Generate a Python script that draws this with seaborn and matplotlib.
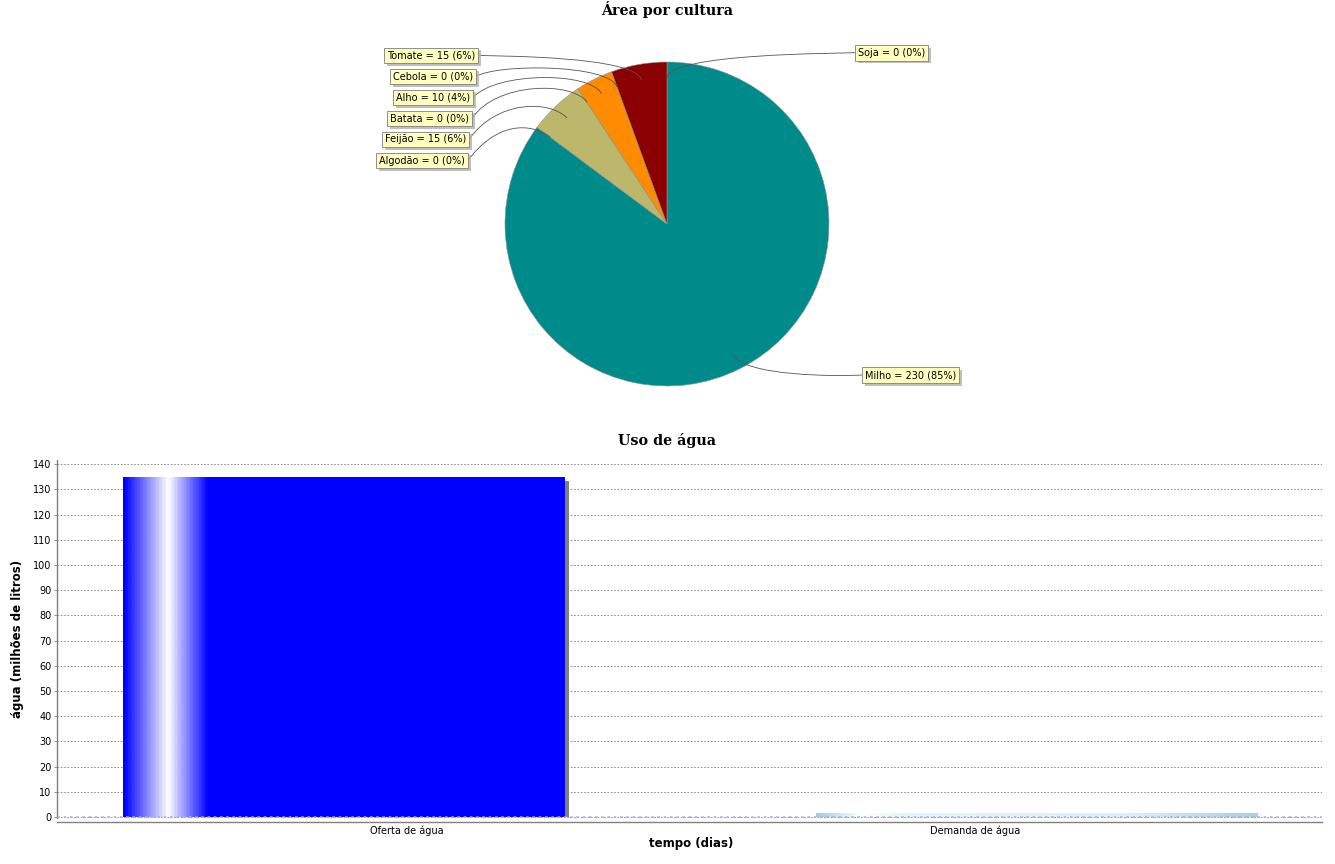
import numpy as np
import pandas as pd
import seaborn as sns
import matplotlib.pyplot as plt
import matplotlib.patheffects as pe
from matplotlib.path import Path
from matplotlib.patches import PathPatch, Rectangle
from matplotlib.colors import LinearSegmentedColormap

# --- data -------------------------------------------------------------
culturas = ['Soja', 'Milho', 'Algodão', 'Feijão', 'Batata', 'Alho', 'Cebola', 'Tomate']
areas = [0, 230, 0, 15, 0, 10, 0, 15]
cores_pie = ['#4682b4', '#008b8b', '#999999', '#bdb76b', '#cccccc', '#ff8c00', '#dddddd', '#8b0000']

usos = ['Oferta de água', 'Demanda de água']
volumes = [135, 1.6]

# --- layout (pixels of the 1335x864 picture) --------------------------
W, H = 1335, 864
CX, CY, R = 667, 224, 162
# label box edge (x) and centre (y); left labels use their right edge
label_px = {
    'Soja': (855, 52.7), 'Milho': (862, 375),
    'Algodão': (468, 160.5), 'Feijão': (469, 139.5), 'Batata': (472, 118.5),
    'Alho': (473, 97.5), 'Cebola': (476, 76.5), 'Tomate': (478, 55.5),
}
bar_offsets = [-0.111, 0.109]
bar_width = 0.778
bar_grad = [
    [(0, '#0000ff'), (0.10, '#ffffff'), (0.19, '#0000ff'), (1, '#0000ff')],
    [(0, '#9fcfdb'), (0.10, '#ffffff'), (0.2, '#e6f3f6'), (0.7, '#e0f0f4'), (1, '#a4d2dd')],
]
bar_shadow = [True, False]

sns.set_style('white')
plt.rcParams['font.family'] = ['DejaVu Sans']
plt.rcParams['text.color'] = 'black'
plt.rcParams['xtick.color'] = 'black'
plt.rcParams['ytick.color'] = 'black'

fig = plt.figure(figsize=(W / 100, H / 100), dpi=100)
fig.patch.set_facecolor('white')

# --- pie --------------------------------------------------------------
ax_pie = fig.add_axes([0, 1 - 425 / H, 1, 400 / H])
ax_pie.pie(areas, colors=cores_pie, startangle=90, counterclock=False, radius=1,
           wedgeprops=dict(edgecolor='#909090', linewidth=0.4))
ax_pie.set_aspect('auto')
ax_pie.set_xlim(-CX / R, (W - CX) / R)
ax_pie.set_ylim(-(425 - CY) / R, (CY - 25) / R)
ax_pie.axis('off')


def to_pie(px, py):
    return (px - CX) / R, (CY - py) / R


total = sum(areas)
cum = 0
link_r, elbow_r = 0.9, 1.053
fs = 7
pad_px = 3
for nome, v in zip(culturas, areas):
    mid = np.deg2rad(90 - (cum + v / 2) / total * 360)
    cum += v
    lx, ly = link_r * np.cos(mid), link_r * np.sin(mid)
    ex, ey = elbow_r * np.cos(mid), elbow_r * np.sin(mid)
    bx, by = label_px[nome]
    left = bx < CX
    tx, ty = to_pie(bx, by)
    ax_x = -elbow_r if left else elbow_r
    path = Path([(tx, ty), (ax_x, ey), (ex, ey), (lx, ly)],
                [Path.MOVETO, Path.CURVE4, Path.CURVE4, Path.CURVE4])
    ax_pie.add_patch(PathPatch(path, facecolor='none', edgecolor='#555555', lw=0.6))
    txt_x = tx - pad_px / R if left else tx + pad_px / R
    pct = 100 * v / total
    t = ax_pie.text(txt_x, ty, f'{nome} = {v} ({pct:.0f}%)', fontsize=fs, color='black',
                    ha='right' if left else 'left', va='center',
                    bbox=dict(boxstyle='square,pad=0.3', facecolor='#ffffc0',
                              edgecolor='#808080', linewidth=0.6))
    t.get_bbox_patch().set_path_effects([
        pe.SimplePatchShadow(offset=(2, -2), shadow_rgbFace='#b0b0b0', alpha=0.8),
        pe.Normal()])

fig.text(CX / W, 1 - 10 / H, 'Área por cultura', family='DejaVu Serif',
         fontweight='bold', fontsize=10.3, ha='center', va='center', color='black')

# --- bars -------------------------------------------------------------
ax = fig.add_axes([57 / W, 1 - 818 / H, (1322 - 57) / W, (818 - 460) / H])
df = pd.DataFrame({'uso': usos, 'volume': volumes})
sns.barplot(data=df, x='uso', y='volume', hue='uso', palette=['#0000ff', '#add8e6'],
            width=bar_width, saturation=1, legend=False, ax=ax, zorder=3)

xlim = (-(407 - 57) / 568, 1 + (1322 - 975) / 568)
ylim = (-1 / 25.2 * 10, (817 - 460) / 25.2 * 10)
ax.set_xlim(*xlim)
ax.set_ylim(*ylim)

ax_w_px = 1322 - 57
ax_h_px = 818 - 460
dx = 4 * (xlim[1] - xlim[0]) / ax_w_px
dy = 4 * (ylim[1] - ylim[0]) / ax_h_px

for p in list(ax.patches):
    i = int(round(p.get_x() + p.get_width() / 2))
    p.set_x(p.get_x() + bar_offsets[i])
    p.set_linewidth(0)
    x0, w, h = p.get_x(), p.get_width(), p.get_height()
    cmap = LinearSegmentedColormap.from_list(f'g{i}', bar_grad[i])
    grad = np.linspace(0, 1, 400)[None, :]
    im = ax.imshow(grad, cmap=cmap, extent=[x0, x0 + w, 0, h], aspect='auto',
                   zorder=3.5, interpolation='bilinear')
    im.set_clip_path(p)
    if bar_shadow[i]:
        ax.add_patch(Rectangle((x0 + dx, 0), w, h - dy, facecolor='#808080',
                               edgecolor='none', zorder=2.5))

ax.set_xlim(*xlim)
ax.set_ylim(*ylim)
ax.set_yticks(np.arange(0, 141, 10))
ax.yaxis.grid(True, linestyle=(0, (2, 2)), color='#808080', linewidth=0.6)
ax.xaxis.grid(False)
ax.set_axisbelow(True)
ax.axhline(0, color='#aaaaff', linestyle=(0, (1, 1.5)), linewidth=1.8, zorder=6)

for s in ['top', 'right']:
    ax.spines[s].set_visible(False)
ax.spines['left'].set_color('#808080')
ax.spines['bottom'].set_color('#808080')
ax.spines['bottom'].set_position(('outward', 3))
ax.spines['left'].set_linewidth(1)
ax.spines['bottom'].set_linewidth(1)
ax.tick_params(axis='y', length=2.5, width=0.6, color='#808080', labelcolor='black',
               labelsize=7, pad=1.5, left=True)
ax.tick_params(axis='x', length=0, labelsize=7, pad=2.5, labelcolor='black')
ax.set_xlabel('')
ax.set_ylabel('')

fig.text(CX / W, 1 - 440 / H, 'Uso de água', family='DejaVu Serif',
         fontweight='bold', fontsize=10.3, ha='center', va='center', color='black')
fig.text(691 / W, 1 - 844 / H, 'tempo (dias)', fontweight='bold', fontsize=8.5,
         ha='center', va='center', color='black')
fig.text(18 / W, 1 - 639 / H, 'água (milhões de litros)', fontweight='bold',
         fontsize=8.5, rotation=90, ha='center', va='center', color='black')

fig.savefig('out.png', dpi=100, facecolor='white')
